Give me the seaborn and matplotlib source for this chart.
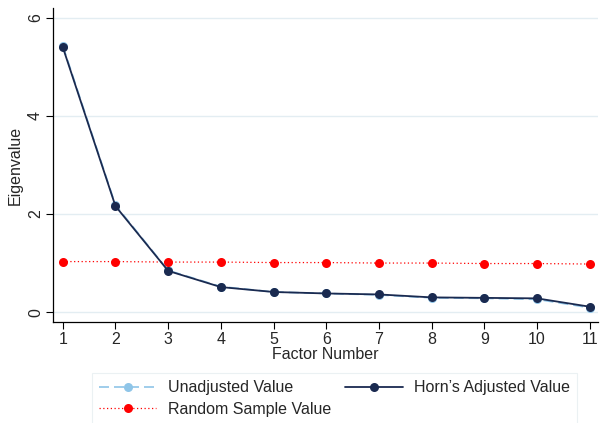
import matplotlib
matplotlib.use("Agg")
import matplotlib.pyplot as plt
import seaborn as sns
import pandas as pd

factors = [1, 2, 3, 4, 5, 6, 7, 8, 9, 10, 11]
horn_adjusted = [5.40, 2.16, 0.84, 0.51, 0.41, 0.38, 0.36, 0.30, 0.29, 0.28, 0.11]
unadjusted = [5.43, 2.18, 0.85, 0.52, 0.41, 0.38, 0.35, 0.29, 0.28, 0.26, 0.09]
random_sample = [1.03, 1.03, 1.02, 1.02, 1.01, 1.01, 1.00, 1.00, 0.99, 0.99, 0.98]
y_ticks = [0, 2, 4, 6]

sns.set_theme(style="white")
plt.rcParams["font.family"] = ["Liberation Sans", "DejaVu Sans"]

df = pd.DataFrame({"factor": factors, "horn": horn_adjusted,
                   "unadj": unadjusted, "rand": random_sample})

fig = plt.figure(figsize=(6, 4.23), dpi=100)
ax = fig.add_axes([0.088, 0.239, 0.908, 0.742])

for y in y_ticks:
    ax.axhline(y, color="#e3edf2", lw=1.0, zorder=0)

sns.lineplot(data=df, x="factor", y="rand", ax=ax, color="red", lw=0.9,
             linestyle=(0, (1, 2)), marker="o", markersize=6.5,
             markeredgewidth=0, label="Random Sample Value", zorder=3)
sns.lineplot(data=df, x="factor", y="unadj", ax=ax, color="#8fc5e8", lw=1.2,
             linestyle=(0, (6, 3)), marker="o", markersize=6.5,
             markeredgewidth=0, label="Unadjusted Value", zorder=2)
sns.lineplot(data=df, x="factor", y="horn", ax=ax, color="#1a2a50", lw=1.3,
             marker="o", markersize=6.5, markeredgewidth=0,
             label="Horn\u2019s Adjusted Value", zorder=4)

ax.set_xlim(0.81, 11.15)
ax.set_ylim(-0.2, 6.2)
ax.set_xticks(factors)
ax.set_yticks(y_ticks)
ax.tick_params(axis="both", which="major", length=5, width=0.8, color="black",
               labelsize=11.5, direction="out", pad=2, left=True, bottom=True)
for lbl in ax.get_yticklabels():
    lbl.set_rotation(90)
    lbl.set_va("center")
ax.set_xlabel("Factor Number", fontsize=11.5, labelpad=0)
ax.set_ylabel("Eigenvalue", fontsize=11.5, labelpad=4)
for s in ["top", "right"]:
    ax.spines[s].set_visible(False)
for s in ["left", "bottom"]:
    ax.spines[s].set_color("black")
    ax.spines[s].set_linewidth(0.9)

ax.get_legend().remove()
h, l = ax.get_legend_handles_labels()
order = [l.index("Unadjusted Value"), l.index("Random Sample Value"),
         l.index("Horn\u2019s Adjusted Value")]
leg = fig.legend([h[i] for i in order], [l[i] for i in order], ncol=2,
                 loc="upper left", bbox_to_anchor=(0.153, 0.118),
                 fontsize=11.5, frameon=True, fancybox=False,
                 edgecolor="#e6eef0", handlelength=3.6, handletextpad=0.7,
                 borderpad=0.45, borderaxespad=0, labelspacing=0.4,
                 columnspacing=0.9)
leg.get_frame().set_linewidth(0.8)

fig.savefig("out.png", dpi=100)
